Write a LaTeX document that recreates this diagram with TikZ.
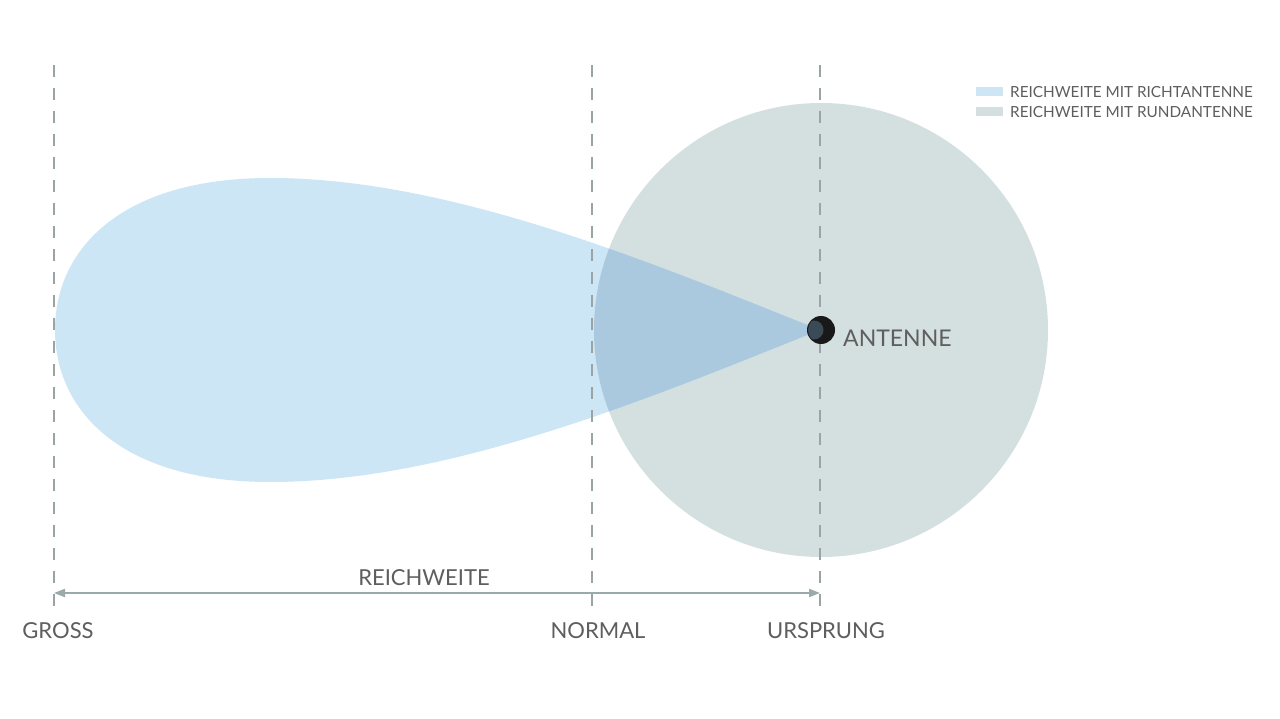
\documentclass[tikz,border=0pt]{standalone}
\usepackage{fontspec}
\setmainfont{Lato}
\usetikzlibrary{arrows.meta}
\definecolor{lobe}{HTML}{CCE6F6}
\definecolor{round}{HTML}{D4DFDF}
\definecolor{overlap}{HTML}{AAC9DF}
\definecolor{dashc}{HTML}{9AA4A4}
\definecolor{arrc}{HTML}{9AAAAA}
\definecolor{txt}{HTML}{5E5E5E}
\definecolor{crescent}{HTML}{3A4A56}
\tikzset{
  guide/.style={draw=dashc, line width=1.3pt, dash pattern=on 12pt off 11pt},
  lbl/.style={text=txt, font=\fontsize{22}{26}\selectfont, inner sep=0pt},
  leg/.style={text=txt, font=\fontsize{15.3}{17}\selectfont, inner sep=0pt, anchor=west},
  swatch/.style={minimum width=27pt, minimum height=9pt, inner sep=0pt, anchor=west},
}
\begin{document}
\begin{tikzpicture}[x=1pt,y=-1pt]
\useasboundingbox (0,0) rectangle (1280,719);
\fill[white] (0,0) rectangle (1280,719);
% round antenna range
\fill[round] (821,330) circle (227);
% lobe
\def\lobepath{(820,330) .. controls (650,262) and (450,178) .. (270,178) .. controls (120,178) and (55,250) .. (55,330) .. controls (55,410) and (120,482) .. (270,482) .. controls (450,482) and (650,398) .. (820,330) -- cycle}
\fill[lobe] \lobepath;
\begin{scope}
  \clip (821,330) circle (227);
  \fill[overlap] \lobepath;
\end{scope}
% guide lines
\coordinate (g1t) at (54,65);  \coordinate (g1b) at (54,612);
\coordinate (g2t) at (592,65); \coordinate (g2b) at (592,612);
\coordinate (g3t) at (820,65); \coordinate (g3b) at (820,612);
\draw[guide] (g1t) -- (g1b);
\draw[guide] (g2t) -- (g2b);
\draw[guide] (g3t) -- (g3b);
% antenna
\fill[black!90] (821,330) circle (14);
\begin{scope}
  \clip (821,330) circle (13);
  \fill[crescent] (814,330) circle (9.5);
\end{scope}
\node[lbl, anchor=west, font=\fontsize{23}{27}\selectfont] (ant) at (843,338) {ANTENNE};
% range arrow
\coordinate (al) at (54,593);
\coordinate (ar) at (820,593);
\draw[arrc, line width=2pt, {Triangle[length=11pt,width=8pt]}-{Triangle[length=11pt,width=8pt]}] (al) -- (ar);
\node[lbl] (rw) at (424,578) {REICHWEITE};
\node[lbl] (gross) at (58,631) {GROSS};
\node[lbl] (normal) at (598,631) {NORMAL};
\node[lbl] (ursp) at (826,631) {URSPRUNG};
% legend
\node[swatch, fill=lobe] (s1) at (976,92) {};
\node[swatch, fill=round] (s2) at (976,112) {};
\node[leg] (l1) at (1010,92) {REICHWEITE MIT RICHTANTENNE};
\node[leg] (l2) at (1010,112) {REICHWEITE MIT RUNDANTENNE};
\end{tikzpicture}
\end{document}
